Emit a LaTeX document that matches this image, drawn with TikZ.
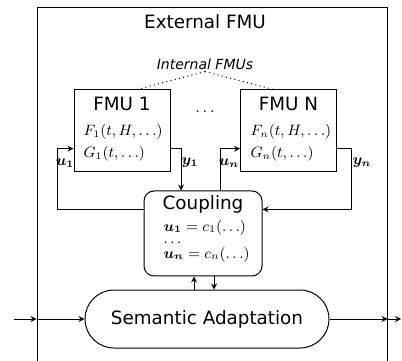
\documentclass[tikz,border=0pt]{standalone}
\usepackage{amsmath}
\usepackage{amssymb}
\usepackage{fontspec}
\newfontfamily\sansdv{DejaVu Sans}
\usetikzlibrary{arrows}
\newcommand{\bvec}[1]{\boldsymbol{#1}}

\begin{document}
\begin{tikzpicture}[x=0.6pt,y=-0.6pt,->,>=stealth,semithick]
  % styles
  \tikzstyle{outer} = [rectangle,draw=black,minimum width=210pt,minimum height=212.4pt];
  \tikzstyle{fmu} = [rectangle,draw=black,fill=white,minimum width=57.6pt,minimum height=49.2pt];
  \tikzstyle{coupl} = [rectangle,rounded corners=6pt,draw=black,minimum width=70.8pt,minimum height=51pt];
  \tikzstyle{adapt} = [rectangle,rounded corners=17.4pt,draw=black,minimum width=146.4pt,minimum height=34.8pt,font={\sansdv\fontsize{11}{13}\selectfont}];
  \tikzstyle{title} = [inner sep=0pt,font={\sansdv\fontsize{11}{13}\selectfont}];
  \tikzstyle{note} = [inner sep=1pt,font={\sansdv\itshape\fontsize{8.4}{10}\selectfont}];
  \tikzstyle{eqn} = [inner sep=0pt,anchor=west,font=\small];
  \tikzstyle{port} = [inner sep=0pt,font=\small];

  \useasboundingbox (0,0) rectangle (402,361);

  % nodes
  \node[outer] (ext) at (212,185) {};
  \node[title] (exttitle) at (205,22) {External FMU};
  \node[note] (internal) at (205,64) {Internal FMUs};

  \node[fmu] (fmu1) at (122,131) {};
  \node[title] (fmu1title) at (122,104) {FMU 1};
  \node[eqn] (f1) at (83,132) {$F_1(t,H,\ldots)$};
  \node[eqn] (g1) at (83,154) {$G_1(t,\ldots)$};

  \node (fmudots) at (205,112) {$\ldots$};

  \node[fmu] (fmun) at (288.5,131) {};
  \node[title] (fmuntitle) at (288.5,104) {FMU N};
  \node[eqn] (fn) at (250,132) {$F_n(t,H,\ldots)$};
  \node[eqn] (gn) at (250,154) {$G_n(t,\ldots)$};

  \node[coupl] (coupling) at (203,233.5) {};
  \node[title] (coupltitle) at (203,204) {Coupling};
  \node[eqn,align=left] (ceqs) at (163,240.8)
    {$\bvec{u_1} = c_1(\ldots)$\\[-3.8pt]$\ldots$\\[-2pt]$\bvec{u_n} = c_n(\ldots)$};

  \node[adapt] (adapt) at (207,319) {Semantic Adaptation};

  \node[port] (lu1) at (65,163) {$\bvec{u_1}$};
  \node[port] (ly1) at (190,163) {$\bvec{y_1}$};
  \node[port] (lun) at (229,163) {$\bvec{u_n}$};
  \node[port] (lyn) at (362,163) {$\bvec{y_n}$};

  \coordinate (fbl) at (57,0);
  \coordinate (fbr) at (351,0);
  \coordinate (upx) at (194,0);
  \coordinate (dnx) at (214,0);
  \coordinate (inl) at (14,319);
  \coordinate (outr) at (401,319);

  % edges
  \draw[-,dotted] (internal.south) -- (fmu1.70);
  \draw[-,dotted] (internal.south) -- (fmun.110);

  \draw (coupling.158) -- (coupling.158 -| fbl) -- (fbl |- fmu1.200) -- (fmu1.200);
  \draw (fmu1.-20) -| (coupling.117);
  \draw (coupling.68) |- (fmun.200);
  \draw (fmun.-20) -- (fmun.-20 -| fbr) |- (coupling.22);

  \draw (adapt.north -| upx) -- (coupling.south -| upx);
  \draw (coupling.south -| dnx) -- (adapt.north -| dnx);

  \draw (inl) -- (inl -| ext.west);
  \draw (inl -| ext.west) -- (adapt.west);
  \draw (adapt.east) -- (adapt.east -| ext.east);
  \draw (adapt.east -| ext.east) -- (outr);
\end{tikzpicture}
\end{document}
